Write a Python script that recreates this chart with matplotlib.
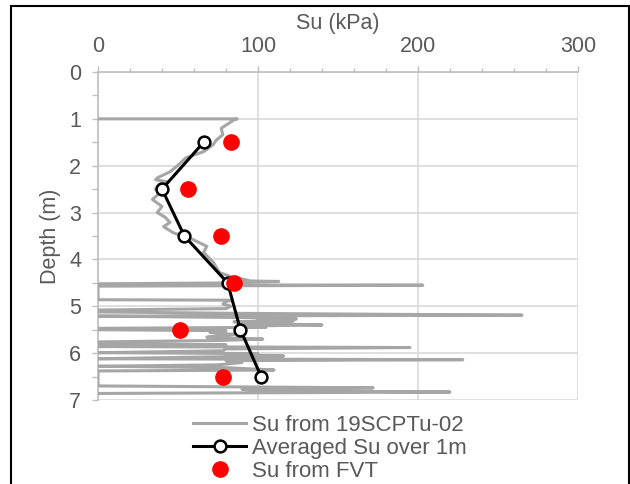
import matplotlib
matplotlib.use("Agg")
import matplotlib.pyplot as plt
from matplotlib.patches import Rectangle
from matplotlib.ticker import MultipleLocator

# CPTu profile (Su kPa vs depth m)
cpt_depth = [1.00, 1.00, 1.02, 1.09, 1.20, 1.34, 1.45, 1.55, 1.70, 1.83, 2.02, 2.13, 2.26, 2.30,
             2.34, 2.40, 2.50, 2.60, 2.72, 2.87, 3.00, 3.10, 3.21, 3.30, 3.43, 3.57, 3.72, 3.85,
             4.06, 4.28, 4.38, 4.43, 4.46, 4.47, 4.48, 4.50, 4.52, 4.54, 4.55, 4.57, 4.86, 4.87,
             4.90, 4.95, 5.00, 5.05, 5.08, 5.12, 5.15, 5.19, 5.21, 5.24, 5.27, 5.29, 5.31, 5.33,
             5.36, 5.40, 5.42, 5.45, 5.47, 5.50, 5.52, 5.56, 5.60, 5.63, 5.66, 5.70, 5.73, 5.76,
             5.80, 5.82, 5.86, 5.88, 5.91, 5.95, 5.99, 6.01, 6.03, 6.06, 6.08, 6.12, 6.14, 6.16,
             6.20, 6.25, 6.28, 6.31, 6.36, 6.38, 6.70, 6.72, 6.74, 6.77, 6.80, 6.83, 6.86]
cpt_su = [0, 87, 85, 82, 77, 78, 74, 72, 66, 55, 49, 45, 37, 36,
          43, 38, 36, 38, 34, 40, 37, 42, 45, 41, 47, 59, 68, 66,
          72, 76, 84, 92, 95, 113, 90, 88, 0, 0, 203, 0, 0, 84,
          80, 78, 83, 80, 0, 0, 85, 265, 0, 90, 124, 100, 122, 85,
          95, 140, 90, 105, 0, 0, 80, 70, 85, 75, 68, 103, 75, 0,
          0, 80, 0, 195, 80, 78, 0, 100, 80, 116, 70, 0, 228, 80,
          90, 75, 0, 80, 110, 0, 0, 87, 172, 90, 100, 220, 0]

avg_depth = [1.5, 2.5, 3.5, 4.5, 5.5, 6.5]
avg_su = [66, 40, 54, 81, 89, 102]

fvt_depth = [1.5, 2.5, 3.5, 4.5, 5.5, 6.5]
fvt_su = [83, 56, 77, 85, 51, 78]

plt.rcParams['font.family'] = ['Liberation Sans', 'DejaVu Sans']
txt = '#595959'
fs = 15.5

fig = plt.figure(figsize=(6.3, 4.84), dpi=100)
ax = fig.add_axes([98/630, 1-400/484, (578-98)/630, (400-72)/484])

ax.plot(cpt_su, cpt_depth, color='#a6a6a6', lw=2.2, label='Su from 19SCPTu-02', zorder=3)
ax.plot(avg_su, avg_depth, color='black', lw=2.2, marker='o', ms=8.5,
        mfc='white', mec='black', mew=1.8, label='Averaged Su over 1m', zorder=4)
ax.plot(fvt_su, fvt_depth, ls='none', marker='o', ms=11, color='#ff0000',
        label='Su from FVT', zorder=5)

ax.set_xlim(0, 300)
ax.set_ylim(7, 0)
ax.xaxis.set_major_locator(MultipleLocator(100))
ax.xaxis.set_minor_locator(MultipleLocator(20))
ax.yaxis.set_major_locator(MultipleLocator(1))
ax.yaxis.set_minor_locator(MultipleLocator(0.5))
ax.xaxis.tick_top()
ax.xaxis.set_label_position('top')
ax.grid(True, which='major', color='#d9d9d9', lw=1.2, zorder=0)
ax.set_axisbelow(True)
for s in ['right', 'bottom']:
    ax.spines[s].set_visible(False)
for s in ['top', 'left']:
    ax.spines[s].set_color('#bfbfbf')
    ax.spines[s].set_linewidth(1.2)
ax.tick_params(axis='both', which='both', color='#bfbfbf', labelcolor=txt,
               labelsize=fs, width=1.0)
ax.tick_params(axis='x', which='major', length=4, pad=7)
ax.tick_params(axis='x', which='minor', length=3)
ax.tick_params(axis='y', which='major', length=4, pad=8)
ax.tick_params(axis='y', which='minor', length=4)

ax.set_xlabel('Su (kPa)', fontsize=fs, color=txt, labelpad=5)
ax.set_ylabel('Depth (m)', fontsize=fs, color=txt, labelpad=6)

leg = fig.legend(loc='upper left', bbox_to_anchor=(184/630, 1-406/484), frameon=False,
                 fontsize=16, handlelength=2.4, handletextpad=0.27, labelspacing=0.09,
                 borderaxespad=0)
for t in leg.get_texts():
    t.set_color(txt)

fig.patches.append(Rectangle((11/630, -0.01), (629-11)/630, 1-6/484 + 0.01,
                             transform=fig.transFigure, fill=False, ec='black', lw=1.5))

fig.savefig('out.png', dpi=100)
